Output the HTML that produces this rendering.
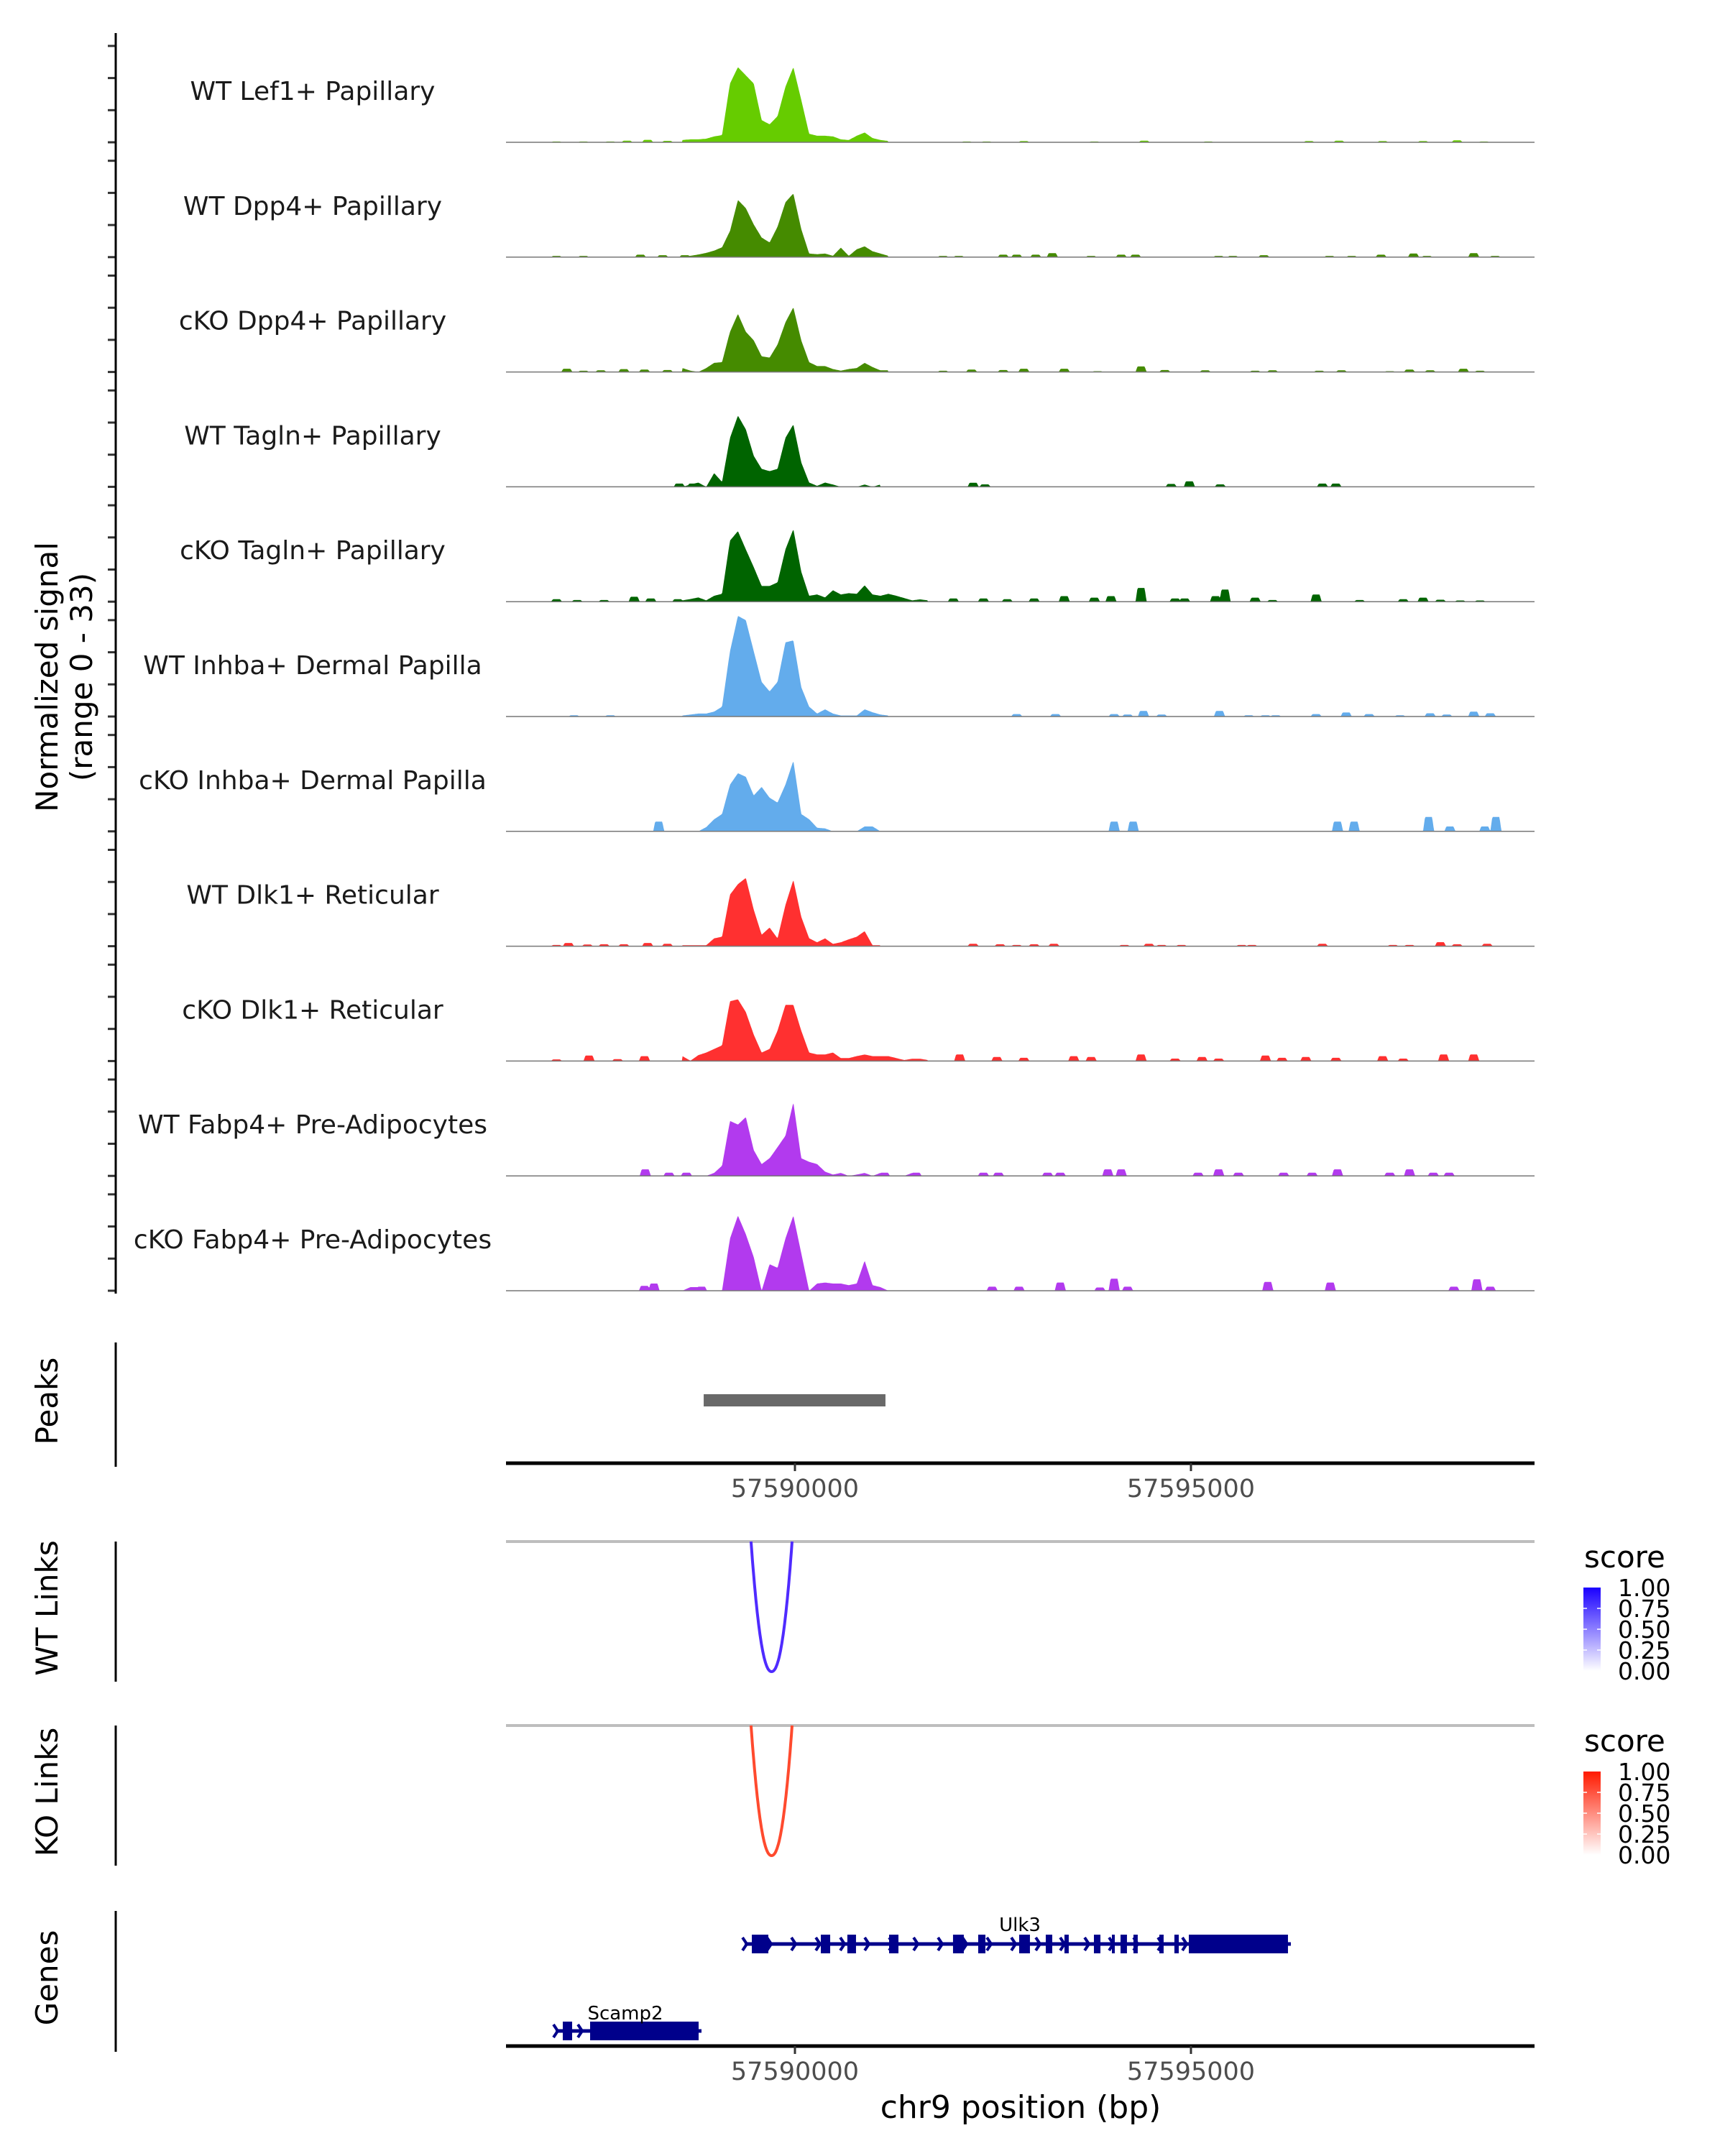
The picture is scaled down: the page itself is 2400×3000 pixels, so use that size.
<!DOCTYPE html>
<html><head><meta charset="utf-8"><style>
html,body{margin:0;padding:0;background:#fff}
svg{display:block}
text{font-family:"DejaVu Sans","Liberation Sans",sans-serif}
</style></head><body>
<svg id="fig" width="2400" height="3000" viewBox="0 0 2400 3000" xmlns="http://www.w3.org/2000/svg">
<g id="tracks"></g>
<g id="lower"></g>
</svg>
<script>
// ---------- data ----------
const trackNames = ["WT Lef1+ Papillary","WT Dpp4+ Papillary","cKO Dpp4+ Papillary","WT Tagln+ Papillary","cKO Tagln+ Papillary","WT Inhba+ Dermal Papilla","cKO Inhba+ Dermal Papilla","WT Dlk1+ Reticular","cKO Dlk1+ Reticular","WT Fabp4+ Pre-Adipocytes","cKO Fabp4+ Pre-Adipocytes"];
const trackColors = ["#66cc00","#458b00","#458b00","#006400","#006400","#63acec","#63acec","#ff3030","#ff3030","#b23aee","#b23aee"];
const coreStart = 57588580;
const coreStep = 100;
const core0 = [0.7,0.9,0.9,1.1,1.8,2.2,18,23,20.5,18,6.8,5.5,8,17,23,13,2.6,2,2,1.8,0.9,0.7,2,3,1.3,0.7,0.4];
const core1 = [0.1,0.4,0.8,1.3,2,3,8,17.5,15,10,6,4.5,9.3,16.8,19.5,8.6,1.1,0.9,1.1,0.4,2.9,0.4,2.4,3.3,1.8,1.1,0.4];
const core2 = [1.2,0.4,0,1.2,2.8,3,12.3,17.8,12.3,9.7,4.8,4.4,8.4,15.2,19.8,9.7,3,1.8,1.8,0.9,0.4,0.9,1.2,2.8,1.5,0.5,0.5];
const core3 = [0,0.7,1.3,0,4.2,1.5,15,21.8,17.6,9.5,5.5,4.8,5.5,15,19.1,7.5,1.3,0.3,1.3,0.7,0,0,0,0.7,0,0.7];
const core4 = [0.4,0.8,1.3,0.4,1.8,2.4,18.7,21.6,16,10.6,4.8,4.8,5.9,16,22.2,9.2,1.8,2.2,1.3,3.5,2.2,2.6,2.4,5,2.2,1.8,2.4,1.8,1.1,0.4,0.7,0.4];
const core5 = [0.3,0.6,0.9,0.9,1.5,3,20,30.8,29.5,20,10.6,7.7,10.6,22.7,23.3,9,3,0.9,2.2,0.9,0.3,0.3,0.3,2.2,1.3,0.6,0.3];
const core6 = [0,0,0,1.3,3.7,5.3,14.3,17.8,16.7,11,13.6,10.3,8.8,14.3,21.6,5.3,3.7,1.1,0.9,0,0,0,0,1.5,1.5,0];
const core7 = [0.3,0.3,0.3,0.3,2.4,2.9,15.8,19,20.9,11.2,3.5,5.7,2.4,12.6,20.3,9,2.4,1.2,2.4,0.7,1.2,2.1,2.9,4.6,0.3,0.3];
const core8 = [1.5,0.1,1.8,2.6,3.7,4.8,18.3,18.9,15,8.1,2.6,3.7,9.3,17.2,17.2,9.3,2.6,2,2,2.6,0.9,0.9,1.5,2,1.5,1.5,1.5,0.9,0.3,0.7,0.7,0.3];
const core9 = [0.9,0,0,0,0.9,3.1,16.8,15.7,18,7.9,3.6,5.4,8.8,12.3,22.5,5.4,4.3,3.6,1.3,0.4,0.9,0,0.4,0.9,0,0.9,0,0,0,0.9];
const core10 = [0,1.1,1.1,0,0,0,16,23,17.3,10.3,0,8.1,7,16,23,11.5,0,2.2,2.5,2.2,2.2,1.7,2.2,9.2,1.7,1.1,0];
// background bumps: positions (bp) and heights
const bgPos0 = [57586990,57587330,57587670,57587880,57588140,57588390,57592170,57592420,57592890,57593780,57594410,57595220,57596490,57596870,57597420,57597930,57598360,57598700];
const bgVal0 = [0.25,0.25,0.25,0.5,0.75,0.45,0.25,0.25,0.37,0.25,0.5,0.25,0.37,0.5,0.37,0.37,0.6,0.25];
const bgPos1 = [57586990,57587330,57588050,57588330,57588610,57591870,57592070,57592630,57592800,57593040,57593250,57593740,57594120,57594300,57595350,57595530,57595920,57596750,57597030,57597400,57597810,57597980,57598570,57598840];
const bgVal1 = [0.37,0.37,0.74,0.6,0.6,0.37,0.37,0.74,0.74,0.74,1.24,0.37,0.74,0.74,0.37,0.37,0.6,0.37,0.37,0.74,1.1,0.37,1.24,0.37];
const bgPos2 = [57587120,57587330,57587550,57587840,57588100,57588390,57591870,57592230,57592630,57592890,57593400,57593820,57594370,57594670,57595180,57595810,57596030,57596620,57596900,57597510,57597760,57598020,57598440,57598650];
const bgVal2 = [1,0.37,0.5,0.87,0.74,0.6,0.37,0.74,0.6,1,1,0.25,1.7,0.6,0.5,0.37,0.5,0.37,0.5,0.25,0.74,0.5,1,0.37];
const bgPos3 = [57588540,57588710,57592250,57592400,57594750,57594980,57595370,57596660,57596830];
const bgVal3 = [1,1,1.24,0.74,0.87,1.7,0.74,1,1];
const bgPos4 = [57586990,57587250,57587590,57587970,57588180,57588520,57592000,57592380,57592680,57593020,57593400,57593780,57593990,57594370,57594800,57594920,57595310,57595430,57595810,57596030,57596580,57597130,57597680,57597930,57598150,57598400,57598650];
const bgVal4 = [0.74,0.5,0.5,1.5,1,0.74,1,1,0.74,1,1.7,1.24,1.7,4.2,1,1,1.7,3.7,1.24,0.5,2.2,0.5,0.74,1.24,0.6,0.37,0.37];
const bgPos5 = [57587210,57587670,57592800,57593290,57594030,57594200,57594400,57594630,57595360,57595730,57595940,57596070,57596580,57596960,57597250,57597640,57598020,57598230,57598570,57598780];
const bgVal5 = [0.37,0.37,0.74,0.74,0.74,0.6,1.7,0.6,1.7,0.37,0.37,0.37,0.74,1.24,0.74,0.37,1,0.6,1.5,1];
const bgPos6 = [57588280,57594030,57594270,57596850,57597060,57598000,57598270,57598710,57598850];
const bgVal6 = [3,3,3,3,3,4.4,1.5,1.5,4.4];
const bgPos7 = [57586990,57587140,57587380,57587590,57587840,57588140,57588390,57592250,57592590,57592800,57593020,57593270,57594160,57594470,57594630,57594880,57595640,57595770,57596660,57597550,57597760,57598150,57598360,57598740];
const bgVal7 = [0.37,1,0.5,0.6,0.6,1,0.74,0.74,0.6,0.37,0.6,0.74,0.37,0.74,0.37,0.37,0.37,0.37,0.74,0.37,0.37,1.24,0.6,0.74];
const bgPos8 = [57586990,57587400,57587760,57588100,57592080,57592550,57592890,57593520,57593740,57594370,57594800,57595140,57595350,57595940,57596150,57596450,57596830,57597420,57597680,57598190,57598570];
const bgVal8 = [0.5,1.7,0.6,1.5,2,1.24,1,1.5,1.24,2,0.74,1.24,0.74,1.7,1,1.24,1,1.5,0.74,2,2];
const bgPos9 = [57588110,57588410,57588630,57591130,57591530,57592380,57592570,57593190,57593350,57593950,57594120,57595090,57595350,57595600,57596170,57596530,57596850,57597510,57597760,57598060,57598260];
const bgVal9 = [2,1,1,1,1,1,1,1,1,2,2,1,2,1,1,1,2,1,2,1,1];
const bgPos10 = [57588100,57588220,57588820,57592490,57592830,57593350,57593850,57594030,57594200,57595970,57596760,57598320,57598610,57598780];
const bgVal10 = [1.5,2.2,1.24,1.24,1.24,2.5,1,3.7,1.24,2.7,2.5,1.24,3.5,1.24];
const cores = [core0,core1,core2,core3,core4,core5,core6,core7,core8,core9,core10];
const bgPositions = [bgPos0,bgPos1,bgPos2,bgPos3,bgPos4,bgPos5,bgPos6,bgPos7,bgPos8,bgPos9,bgPos10];
const bgValues = [bgVal0,bgVal1,bgVal2,bgVal3,bgVal4,bgVal5,bgVal6,bgVal7,bgVal8,bgVal9,bgVal10];
const xTicks = [57590000,57595000];
const xTickLabels = ["57590000","57595000"];
const peakStarts = [57588848];
const peakEnds = [57591143];
const linkWT = [57589446,57589964];
const linkKO = [57589446,57589964];
const ulk3Exons = [[57589456,57589664],[57590327,57590445],[57590662,57590771],[57591189,57591307],[57591996,57592132],[57592314,57592405],[57592831,57592967],[57593167,57593249],[57593403,57593457],[57593775,57593857],[57594002,57594038],[57594111,57594192],[57594274,57594328],[57594601,57594655],[57594791,57594846],[57594973,57596225]];
const scamp2Exons = [[57587069,57587187],[57587414,57588784]];
const legendTicks = ["1.00","0.75","0.50","0.25","0.00"];

// ---------- scales ----------
const X0 = 704, X1 = 2135, BP0 = 57586352, BP1 = 57599338;
function xs(bp){ return X0 + (bp - BP0) / (BP1 - BP0) * (X1 - X0); }
const TRACK_H = 159.8, BASE0 = 198, PX_PER_UNIT = 4.545;
function baseY(i){ return BASE0 + TRACK_H * i; }
function ys(i, v){ return baseY(i) - v * PX_PER_UNIT; }

const NS = "http://www.w3.org/2000/svg";
function mk(tag, attrs, parent){ const e = document.createElementNS(NS, tag); for (const k in attrs) e.setAttribute(k, attrs[k]); parent.appendChild(e); return e; }
const tracksG = document.getElementById('tracks');
const lowerG = document.getElementById('lower');

function profile(i, bp){
  const c = cores[i];
  let v = 0;
  const f = (bp - coreStart) / coreStep;
  if (f >= 0 && f <= c.length - 1){
    const k = Math.floor(f), t = f - k;
    v = c[k] * (1 - t) + (k + 1 < c.length ? c[k + 1] : 0) * t;
  }
  const P = bgPositions[i], V = bgValues[i];
  for (let j = 0; j < P.length; j++){
    const d = Math.abs(bp - P[j]);
    if (d < 45) v = Math.max(v, V[j]);
    else if (d < 70) v = Math.max(v, V[j] * (70 - d) / 25);
  }
  return v;
}

// ---------- coverage tracks ----------
for (let i = 0; i < trackNames.length; i++){
  const g = mk('g', {}, tracksG);
  
  
  let d = 'M' + X0 + ',' + baseY(i).toFixed(1);
  for (let bp = BP0; bp <= BP1; bp += 10){
    d += ' L' + xs(bp).toFixed(1) + ',' + ys(i, profile(i, bp)).toFixed(1);
  }
  d += ' L' + X1 + ',' + baseY(i).toFixed(1) + ' Z';
  const a = mk('path', {d: d, fill: trackColors[i], stroke: 'none'}, g);
  
  
  const bl = mk('line', {x1: X0, x2: X1, y1: baseY(i), y2: baseY(i), stroke: '#777', 'stroke-width': 1.5}, g);
  
  
  const lb = mk('text', {x: 435, y: baseY(i) - 59, 'text-anchor': 'middle', 'font-size': 36, fill: '#1a1a1a'}, g);
  lb.textContent = trackNames[i];
  
  
  for (let k = 0; k < 4; k++){
    const ty = baseY(i) - k * 44.7;
    const tk = mk('line', {x1: 150, x2: 161, y1: ty, y2: ty, stroke: '#333', 'stroke-width': 3}, g);
    
    
  }
}
const yAxis = mk('line', {x1: 161, x2: 161, y1: 46, y2: 1800, stroke: '#000', 'stroke-width': 3}, tracksG);


const yt = mk('text', {transform: 'translate(80,942) rotate(-90)', 'text-anchor': 'middle', 'font-size': 42, fill: '#000'}, tracksG);


yt.textContent = 'Normalized signal';
const yt2 = mk('text', {transform: 'translate(128,942) rotate(-90)', 'text-anchor': 'middle', 'font-size': 42, fill: '#000'}, tracksG);


yt2.textContent = '(range 0 - 33)';

// ---------- helpers for lower panels ----------
function panelAxis(name, y1, y2, label){
  const l = mk('line', {x1: 161, x2: 161, y1: y1, y2: y2, stroke: '#000', 'stroke-width': 3}, lowerG);
  
  
  const t = mk('text', {transform: 'translate(80,' + ((y1 + y2) / 2 - 5) + ') rotate(-90)', 'text-anchor': 'middle', 'font-size': 42, fill: '#000'}, lowerG);
  t.textContent = label;
  
  
}
function xAxis(name, y){
  const l = mk('line', {x1: X0, x2: X1, y1: y, y2: y, stroke: '#000', 'stroke-width': 5}, lowerG);
  
  
  for (let k = 0; k < xTicks.length; k++){
    const tx = xs(xTicks[k]);
    const t = mk('line', {x1: tx, x2: tx, y1: y, y2: y + 11, stroke: '#333', 'stroke-width': 3}, lowerG);
    
    
    const lb = mk('text', {x: tx, y: y + 47, 'text-anchor': 'middle', 'font-size': 35, fill: '#4d4d4d'}, lowerG);
    lb.textContent = xTickLabels[k];
    
    
  }
}

// Peaks
panelAxis('peaks', 1868, 2041, 'Peaks');
for (let k = 0; k < peakStarts.length; k++){
  const r = mk('rect', {x: xs(peakStarts[k]), y: 1940, width: xs(peakEnds[k]) - xs(peakStarts[k]), height: 17, fill: '#696969'}, lowerG);
  
  
}
xAxis('peaks-x-axis', 2036);

// Links
function linkPanel(name, top, pts, color, label){
  panelAxis(name, top, top + 195, label);
  const gl = mk('line', {x1: X0, x2: X1, y1: top, y2: top, stroke: '#bebebe', 'stroke-width': 4}, lowerG);
  
  
  const xa = xs(pts[0]), xb = xs(pts[1]), depth = 181;
  let d = '';
  for (let s = 0; s <= 60; s++){
    const t = s / 60;
    const x = xa + (xb - xa) * t;
    const y = top + depth * (1 - Math.pow(Math.abs(2 * t - 1), 2.2));
    d += (s ? ' L' : 'M') + x.toFixed(1) + ',' + y.toFixed(1);
  }
  const p = mk('path', {d: d, fill: 'none', stroke: color, 'stroke-width': 4}, lowerG);
  
  
}
linkPanel('wt-links', 2145, linkWT, '#4f2bff', 'WT Links');
linkPanel('ko-links', 2401, linkKO, '#ff4a2e', 'KO Links');

// Legends
function legend(name, titleY, barTop, c1){
  const defs = mk('defs', {}, lowerG);
  const lg = mk('linearGradient', {id: name + '-grad', x1: 0, x2: 0, y1: 1, y2: 0}, defs);
  mk('stop', {offset: 0, 'stop-color': '#ffffff'}, lg);
  mk('stop', {offset: 1, 'stop-color': c1}, lg);
  const tt = mk('text', {x: 2204, y: titleY, 'font-size': 42, fill: '#000'}, lowerG);
  tt.textContent = 'score';
  
  
  const bar = mk('rect', {x: 2203, y: barTop, width: 24, height: 116, fill: 'url(#' + name + '-grad)'}, lowerG);
  
  
  for (let k = 0; k < legendTicks.length; k++){
    const ly = barTop + k * 29;
    if (k > 0 && k < 4){
      mk('line', {x1: 2203, x2: 2208, y1: ly, y2: ly, stroke: '#fff', 'stroke-width': 1.5}, lowerG);
      mk('line', {x1: 2222, x2: 2227, y1: ly, y2: ly, stroke: '#fff', 'stroke-width': 1.5}, lowerG);
    }
    const lt = mk('text', {x: 2251, y: ly + 12, 'font-size': 33, fill: '#000'}, lowerG);
    lt.textContent = legendTicks[k];
    
    
  }
}
legend('wt-legend', 2181, 2209, '#1a00ff');
legend('ko-legend', 2437, 2465, '#ff1a00');

// Genes
panelAxis('genes', 2659, 2855, 'Genes');
function gene(name, exons, y, label, lx, ly){
  const g = mk('g', {}, lowerG);
  
  
  const xa = xs(exons[0][0]) - 10, xb = xs(exons[exons.length - 1][1]) + 4;
  mk('line', {x1: xa, x2: xb, y1: y, y2: y, stroke: '#00008b', 'stroke-width': 5}, g);
  for (let x = xa + 3; x < xb - 6; x += 34){
    mk('path', {d: 'M' + (x - 6) + ',' + (y - 9) + ' L' + x + ',' + y + ' L' + (x - 6) + ',' + (y + 9), fill: 'none', stroke: '#00008b', 'stroke-width': 4}, g);
  }
  for (let k = 0; k < exons.length; k++){
    const r = mk('rect', {x: xs(exons[k][0]), y: y - 13, width: Math.max(4, xs(exons[k][1]) - xs(exons[k][0])), height: 26, fill: '#00008b'}, g);
    
    
  }
  const t = mk('text', {x: lx, y: ly, 'text-anchor': 'middle', 'font-size': 26, fill: '#000'}, g);
  t.textContent = label;
  
  
}
gene('gene-ulk3', ulk3Exons, 2705, 'Ulk3', 1419, 2687);
gene('gene-scamp2', scamp2Exons, 2826, 'Scamp2', 870, 2810);
xAxis('genes-x-axis', 2847);
const xt = mk('text', {x: 1420, y: 2947, 'text-anchor': 'middle', 'font-size': 44, fill: '#000'}, lowerG);
xt.textContent = 'chr9 position (bp)';


</script>
</body></html>
